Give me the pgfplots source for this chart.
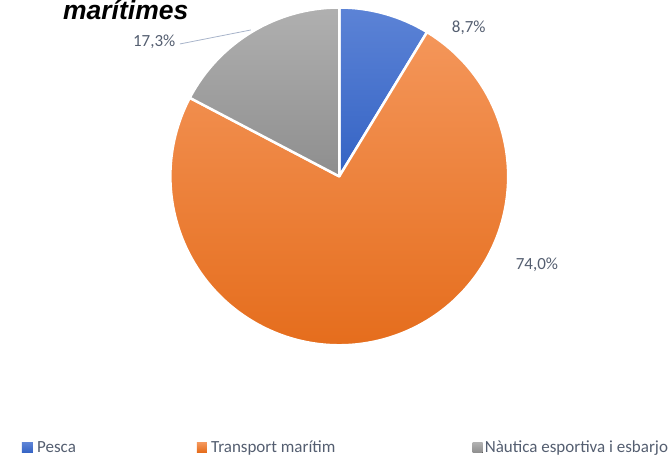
\documentclass[border=0pt]{standalone}
\usepackage{pgfplots}
\pgfplotsset{compat=1.18}
\usepackage{pgfplotstable}
\usepackage{fontspec}
\setmainfont{Carlito}
\newfontfamily\titlefont{Liberation Sans}

\definecolor{pescaTop}{RGB}{92,131,214}
\definecolor{pescaBot}{RGB}{52,99,196}
\definecolor{transTop}{RGB}{244,150,90}
\definecolor{transBot}{RGB}{228,106,24}
\definecolor{nautTop}{RGB}{176,176,176}
\definecolor{nautBot}{RGB}{142,142,142}
\definecolor{labelgray}{RGB}{84,94,112}
\definecolor{leader}{RGB}{168,180,202}

% share of each sector (%)
\pgfplotstableread{
idx value
0 8.7
1 74.0
2 17.3
}\piedata

\begin{document}
\begin{tikzpicture}
\pgfplotstablegetelem{0}{value}\of\piedata \let\vPesca\pgfplotsretval
\pgfplotstablegetelem{1}{value}\of\piedata \let\vTransport\pgfplotsretval
\pgfplotstablegetelem{2}{value}\of\piedata \let\vNautica\pgfplotsretval
\pgfmathsetmacro\aA{90}
\pgfmathsetmacro\aB{90-3.6*\vPesca}
\pgfmathsetmacro\aC{\aB-3.6*\vTransport}
\pgfmathsetmacro\aD{\aC-3.6*\vNautica}
\begin{axis}[
    x=1pt, y=1pt,
    xmin=0, xmax=668, ymin=0, ymax=455,
    hide axis, clip=false,
  ]
  \path (axis cs:0,0) rectangle (axis cs:668,455);

  % sectors
  \path[top color=pescaTop, bottom color=pescaBot, draw=white, line width=2.5pt, line join=round]
    (axis cs:339.5,278.5) -- ++(\aA:169pt) arc[start angle=\aA, end angle=\aB, radius=169pt] -- cycle;
  \path[top color=transTop, bottom color=transBot, draw=white, line width=2.5pt, line join=round]
    (axis cs:339.5,278.5) -- ++(\aB:169pt) arc[start angle=\aB, end angle=\aC, radius=169pt] -- cycle;
  \path[top color=nautTop, bottom color=nautBot, draw=white, line width=2.5pt, line join=round]
    (axis cs:339.5,278.5) -- ++(\aC:169pt) arc[start angle=\aC, end angle=\aD, radius=169pt] -- cycle;

  % title (partly visible)
  \node[anchor=base west, inner sep=0pt, font=\titlefont\bfseries\itshape\fontsize{26.5}{30}\selectfont]
    at (axis cs:63,435) {marítimes};

  % data labels
  \node[anchor=base west, inner sep=0pt, text=labelgray, font=\fontsize{17}{20}\selectfont]
    at (axis cs:452,422) {8,7\%};
  \node[anchor=base west, inner sep=0pt, text=labelgray, font=\fontsize{17}{20}\selectfont]
    at (axis cs:516,185) {74,0\%};
  \node[anchor=base west, inner sep=0pt, text=labelgray, font=\fontsize{17}{20}\selectfont]
    at (axis cs:133,408) {17,3\%};
  \draw[leader, line width=0.8pt] (axis cs:180,411) -- (axis cs:251,425);

  % legend
  \fill[top color=pescaTop, bottom color=pescaBot] (axis cs:22,2) rectangle (axis cs:33,12);
  \node[anchor=base west, inner sep=0pt, text=labelgray, font=\fontsize{17}{20}\selectfont]
    at (axis cs:37,2) {Pesca};
  \fill[top color=transTop, bottom color=transBot] (axis cs:197,2) rectangle (axis cs:207,12);
  \node[anchor=base west, inner sep=0pt, text=labelgray, font=\fontsize{17}{20}\selectfont]
    at (axis cs:211,2) {Transport marítim};
  \fill[top color=nautTop, bottom color=nautBot] (axis cs:473,2) rectangle (axis cs:483,12);
  \node[anchor=base west, inner sep=0pt, text=labelgray, font=\fontsize{17}{20}\selectfont]
    at (axis cs:485,2) {Nàutica esportiva i esbarjo};
\end{axis}
\end{tikzpicture}
\end{document}
